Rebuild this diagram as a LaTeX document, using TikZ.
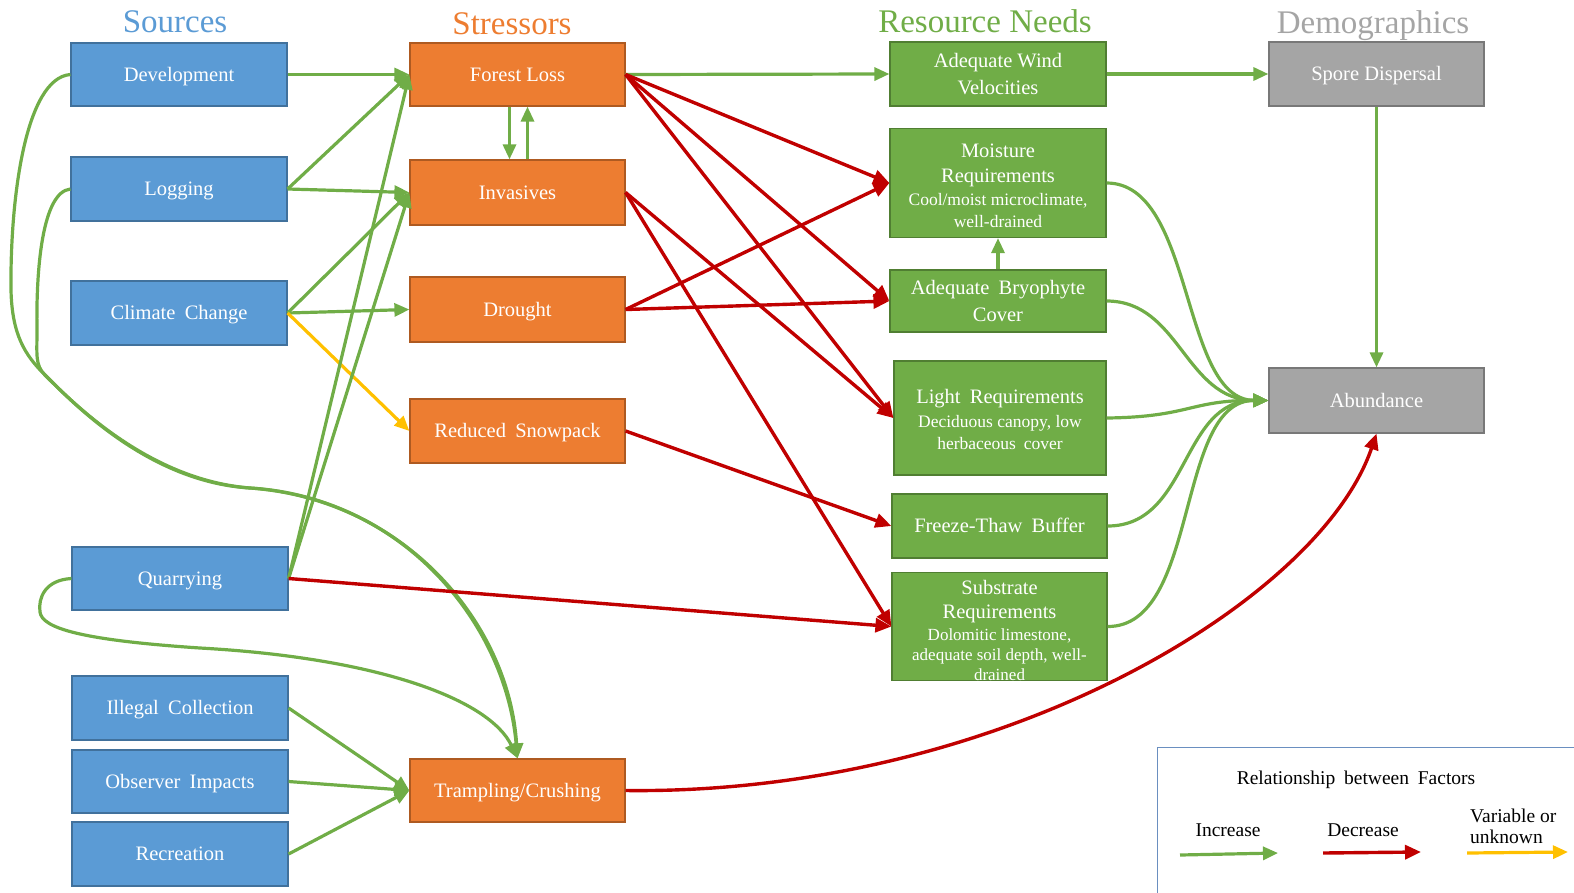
\documentclass[tikz,border=0pt]{standalone}
\usepackage{fontspec}
\setmainfont{Liberation Serif}
\usetikzlibrary{arrows.meta,calc}
\definecolor{cblue}{HTML}{5B9BD5}
\definecolor{cbluel}{HTML}{41719C}
\definecolor{corange}{HTML}{ED7D31}
\definecolor{corangel}{HTML}{AE5A21}
\definecolor{cgreen}{HTML}{70AD47}
\definecolor{cgreenl}{HTML}{507E32}
\definecolor{cgray}{HTML}{A5A5A5}
\definecolor{cgrayl}{HTML}{787878}
\definecolor{cred}{HTML}{C00000}
\definecolor{cyel}{HTML}{FFC000}
\definecolor{cleg}{HTML}{6A8FC0}
\newcommand\smtxt{\fontsize{17.5}{21}\selectfont}
\newcommand\wsp{\hspace{0.45em}}
\begin{document}
\begin{tikzpicture}[x=1pt,y=-1pt,
 box/.style={draw, line width=1.2pt, inner sep=0pt, align=center, text=white, font=\fontsize{20.5}{25}\selectfont},
 one/.style={text height=18pt, text depth=4.5pt},
 src/.style={box, one, fill=cblue, draw=cbluel},
 strs/.style={box, one, fill=corange, draw=corangel},
 res/.style={box, fill=cgreen, draw=cgreenl},
 dem/.style={box, one, fill=cgray, draw=cgrayl},
 inc/.style={draw=cgreen, line width=3.2pt, -{Triangle[length=15pt,width=13pt]}},
 dec/.style={draw=cred, line width=3.4pt, -{Triangle[length=16pt,width=14pt]}},
 var/.style={draw=cyel, line width=3.2pt, -{Triangle[length=15pt,width=13pt]}},
 ttl/.style={font=\fontsize{33}{36}\selectfont, inner sep=0pt, text height=29pt, text depth=7pt},
 leg/.style={font=\fontsize{19.5}{22}\selectfont, inner sep=0pt, text=black},
 ]
\useasboundingbox (0,0) rectangle (1574,892);
% titles
\node[ttl, text=cblue] (tsrc) at (175,21) {Sources};
\node[ttl, text=corange] (tstr) at (512,23) {Stressors};
\node[ttl, text=cgreen] (tres) at (985,21) {Resource Needs};
\node[ttl, text=cgray] (tdem) at (1373,22) {Demographics};
% sources
\node[src, minimum width=216, minimum height=63] (dev) at (179,74.5) {Development};
\node[src, minimum width=216, minimum height=64] (log) at (179,189) {Logging};
\node[src, minimum width=216, minimum height=64] (cc) at (179,313) {Climate\wsp Change};
\node[src, minimum width=216, minimum height=63] (quar) at (180,578.5) {Quarrying};
\node[src, minimum width=216, minimum height=64] (ill) at (180,708) {Illegal\wsp Collection};
\node[src, minimum width=216, minimum height=63] (obs) at (180,781.5) {Observer\wsp Impacts};
\node[src, minimum width=216, minimum height=64] (rec) at (180,854) {Recreation};
% stressors
\node[strs, minimum width=215, minimum height=63] (fl) at (517.5,74.5) {Forest Loss};
\node[strs, minimum width=215, minimum height=65] (inv) at (517.5,192.5) {Invasives};
\node[strs, minimum width=215, minimum height=65] (dro) at (517.5,309.5) {Drought};
\node[strs, minimum width=215, minimum height=64] (rsn) at (517.5,431) {Reduced\wsp Snowpack};
\node[strs, minimum width=215, minimum height=63] (tra) at (517.5,790.5) {Trampling/Crushing};
% resource needs
\node[res, minimum width=216, minimum height=64] (wind) at (998,74) {Adequate Wind\\[2pt]Velocities};
\node[res, minimum width=216, minimum height=109] (moist) at (998,183) {\rule{0pt}{20pt}Moisture\\Requirements\\[-2pt]\smtxt Cool/moist microclimate,\\[-3pt]\smtxt well-drained};
\node[res, minimum width=216, minimum height=62] (bry) at (998,301) {Adequate\wsp Bryophyte\\[2pt]Cover};
\node[res, minimum width=212, minimum height=114] (light) at (1000,418) {\rule{0pt}{17pt}Light\wsp Requirements\\[-1pt]\smtxt Deciduous canopy, low\\[-3pt]\smtxt herbaceous\wsp cover};
\node[res, one, minimum width=215, minimum height=64] (ft) at (999.5,526) {Freeze-Thaw\wsp Buffer};
\node[res, minimum width=215, minimum height=107, font=\fontsize{20.5}{24}\selectfont] (sub) at (999.5,626.5) {\rule{0pt}{22pt}Substrate\\Requirements\\[-2pt]\fontsize{17}{20}\selectfont Dolomitic limestone,\\[-4pt]\fontsize{17}{20}\selectfont adequate soil depth, well-\\[-4pt]\fontsize{17}{20}\selectfont drained};
% demographics
\node[dem, minimum width=215, minimum height=64] (spore) at (1376.5,74) {Spore Dispersal};
\node[dem, minimum width=215, minimum height=65] (ab) at (1376.5,400.5) {Abundance};
% legend
\node[draw=cleg, line width=1.2pt, minimum width=440, minimum height=170, anchor=north west, inner sep=0pt] (legbox) at (1157,747) {};
\node[leg] (legt) at (1356,780) {Relationship\wsp between\wsp Factors};
\node[leg] (legi) at (1228,830) {Increase};
\node[leg] (legd) at (1363,830) {Decrease};
\node[leg, align=left, anchor=west, font=\fontsize{19.5}{21}\selectfont] (legv) at (1470,826) {Variable or\\unknown};
\coordinate (gA) at (1180,855);
\coordinate (gB) at (1278,853);
\coordinate (rA) at (1323,853);
\coordinate (rB) at (1421,852);
\coordinate (yA) at (1467,853);
\coordinate (yB) at (1568,852);
\draw[inc] (gA) -- (gB);
\draw[dec] (rA) -- (rB);
\draw[var] (yA) -- (yB);
% sources -> stressors
\draw[inc] (dev.east) -- (fl.west);
\draw[inc] (log.east) -- (fl.west);
\draw[inc] (log.east) -- (inv.west);
\draw[inc] (cc.east) -- (inv.west);
\draw[inc] (cc.east) -- (dro.west);
\draw[var] (cc.east) -- (rsn.west);
\draw[inc] (quar.east) -- (fl.west);
\draw[inc] (quar.east) -- (inv.west);
\draw[inc] (ill.east) -- (tra.west);
\draw[inc] (obs.east) -- (tra.west);
\draw[inc] (rec.east) -- (tra.west);
% long curves to trampling
\coordinate (J) at (45,375);
\coordinate (K) at (250,488);
\draw[inc] (dev.west) .. controls (25,78) and (10,200) .. (11,290) .. controls (12,335) and (25,355) .. (J) .. controls (75,405) and (150,480) .. (K) .. controls (400,497) and (505,620) .. (tra.north);
\draw[inc] (log.west) .. controls (42,192) and (36,270) .. (37,330) .. controls (37,355) and (35,365) .. (J) .. controls (75,405) and (150,482) .. (K) .. controls (404,499) and (509,623) .. (tra.north);
\draw[inc] (quar.west) .. controls (45,580) and (38,598) .. (40,612) .. controls (42,628) and (80,640) .. (200,648) .. controls (380,658) and (490,700) .. (tra.north);
% stressor interactions
\draw[inc] ([xshift=-8pt]fl.south) -- ([xshift=-8pt]inv.north);
\draw[inc] ([xshift=10pt]inv.north) -- ([xshift=10pt]fl.south);
% stressors -> needs
\draw[inc] (fl.east) -- (wind.west);
\draw[dec] (fl.east) -- (moist.west);
\draw[dec] (fl.east) -- (bry.west);
\draw[dec] (fl.east) -- (light.west);
\draw[dec] (inv.east) -- (light.west);
\draw[dec] (inv.east) -- (sub.west);
\draw[dec] (dro.east) -- (moist.west);
\draw[dec] (dro.east) -- (bry.west);
\draw[dec] (rsn.east) -- (ft.west);
\draw[dec] (quar.east) -- (sub.west);
% needs -> demographics
\draw[inc] (wind.east) -- (spore.west);
\draw[inc] (spore.south) -- (ab.north);
\draw[inc] (bry.north) -- (moist.south);
\draw[inc] (moist.east) .. controls (1195,183) and (1180,400) .. (ab.west);
\draw[inc] (bry.east) .. controls (1180,301) and (1185,400) .. (ab.west);
\draw[inc] (light.east) .. controls (1190,417) and (1190,400) .. (ab.west);
\draw[inc] (ft.east) .. controls (1190,526) and (1180,400) .. (ab.west);
\draw[inc] (sub.east) .. controls (1200,627) and (1175,400) .. (ab.west);
\draw[dec] (tra.east) .. controls (1000,795) and (1320,600) .. (ab.south);
\end{tikzpicture}
\end{document}
